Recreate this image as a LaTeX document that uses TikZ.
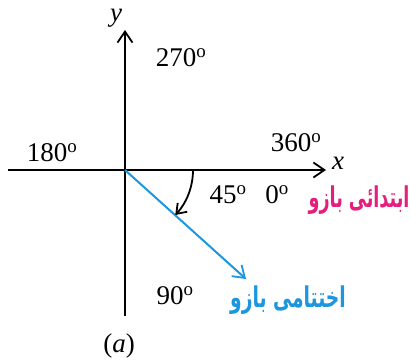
\documentclass[tikz,border=0pt]{standalone}
\usepackage{fontspec}
\setmainfont{Liberation Serif}
\newfontfamily\urdufont[Script=Arabic]{DejaVu Sans}
\TeXXeTstate=1
\usetikzlibrary{arrows.meta}
\definecolor{urdupink}{RGB}{228,30,125}
\definecolor{armblue}{RGB}{28,150,222}
\tikzset{
  tip/.style={-{Straight Barb[length=11pt,width=15pt,line width=1.8pt]}},
  axis/.style={line width=1.8pt, tip},
  lbl/.style={font=\fontsize{27}{31}\selectfont, inner sep=0pt},
  ulbl/.style={font=\urdufont\bfseries\fontsize{22}{26}\selectfont, inner sep=0pt},
}
\begin{document}
\begin{tikzpicture}[x=1pt,y=-1pt]
\useasboundingbox (0,0) rectangle (410,362);
\coordinate (O) at (125,170);
\coordinate (xl) at (8,170);
\coordinate (xr) at (326,170);
\coordinate (yt) at (125,30);
\coordinate (yb) at (125,316);
\coordinate (term) at (246,279);
\draw[line width=1.8pt] (xl) -- (O);
\draw[axis] (O) -- (xr);
\draw[line width=1.8pt] (yb) -- (O);
\draw[axis] (O) -- (yt);
\draw[line width=2pt, armblue, tip] (O) -- (term);
\draw[line width=1.8pt, -{Straight Barb[length=9pt,width=13pt,line width=1.8pt]}] (193,170) arc[start angle=0, end angle=43, radius=66];
\node[lbl] (ylab) at (116,18) {\textit{y}};
\node[lbl] (xlab) at (338,163) {\textit{x}};
\node[lbl] (a270) at (181,58) {270\textsuperscript{o}};
\node[lbl] (a180) at (52,153) {180\textsuperscript{o}};
\node[lbl] (a360) at (296,143) {360\textsuperscript{o}};
\node[lbl] (a45) at (228,195) {45\textsuperscript{o}};
\node[lbl] (a0) at (277,195) {0\textsuperscript{o}};
\node[lbl] (a90) at (175,296) {90\textsuperscript{o}};
\node[lbl] (alab) at (119,346) {(\textit{a})};
\node[ulbl, text=urdupink] (init) at (359,200) {\scalebox{0.8}[1.3]{\beginR ابتدائی بازو\endR}};
\node[ulbl, text=armblue] (fin) at (288,300) {\scalebox{0.85}[1.3]{\beginR اختتامی بازو\endR}};
\end{tikzpicture}
\end{document}
